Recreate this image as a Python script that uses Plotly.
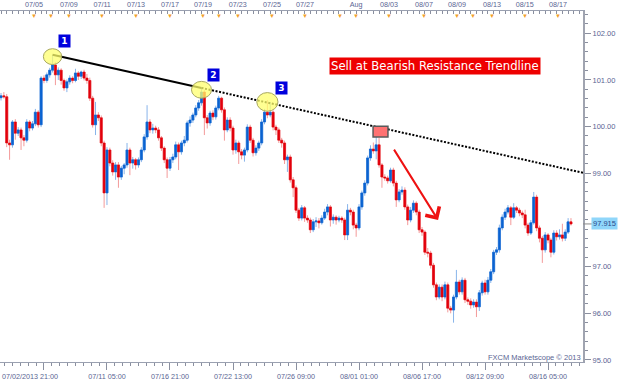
import plotly.graph_objects as go

# ---------------- data ----------------
first_open = 100.62
closes = [
    100.66, 100.64, 99.65, 99.61, 100.10, 99.86, 99.93, 99.76, 99.71, 100.10,
    99.97, 100.06, 100.31, 100.04, 101.04, 100.99, 101.11, 101.21, 101.32, 101.11,
    101.21, 100.99, 100.83, 100.96, 101.04, 100.99, 101.15, 101.08, 101.17, 101.04,
    100.99, 100.61, 100.04, 100.25, 100.19, 99.65, 98.58, 99.50, 99.22, 99.03,
    99.18, 98.92, 99.11, 99.18, 99.50, 99.22, 99.29, 99.18, 99.29, 99.50,
    99.78, 100.10, 99.93, 99.97, 99.93, 99.76, 99.54, 99.29, 99.11, 99.29,
    99.35, 99.61, 99.46, 99.65, 99.71, 100.08, 100.14, 100.25, 100.40, 100.51,
    100.74, 100.19, 100.08, 100.29, 100.21, 100.40, 100.61, 100.36, 99.93, 100.14,
    99.97, 99.50, 99.65, 99.46, 99.39, 99.50, 99.99, 99.71, 99.44, 99.54,
    99.65, 100.10, 100.31, 100.25, 100.31, 99.99, 99.93, 99.71, 99.65, 99.29,
    99.35, 98.86, 98.69, 98.21, 98.04, 98.26, 98.04, 98.00, 97.79, 97.96,
    97.98, 97.94, 98.04, 98.17, 98.28, 98.00, 98.06, 98.00, 98.04, 98.00,
    97.68, 98.21, 98.17, 97.89, 97.83, 98.28, 98.58, 98.79, 99.33, 99.52,
    99.48, 99.61, 99.18, 98.92, 98.90, 98.84, 99.07, 98.79, 98.43, 98.60,
    98.64, 98.28, 98.00, 98.21, 98.36, 98.17, 97.79, 97.74, 97.31, 97.29,
    97.03, 96.61, 96.35, 96.56, 96.35, 96.61, 96.11, 96.07, 96.35, 96.67,
    96.46, 96.71, 96.29, 96.26, 96.18, 96.24, 96.14, 96.44, 96.65, 96.46,
    96.71, 96.89, 97.31, 97.36, 97.83, 98.06, 98.17, 98.26, 98.06, 98.26,
    98.21, 98.15, 98.11, 97.89, 97.72, 97.94, 98.49, 97.83, 97.61, 97.36,
    97.68, 97.57, 97.31, 97.72, 97.64, 97.68, 97.61, 97.74, 97.96, 97.915,
]
highs = [
    100.72, 100.74, 100.70, 99.72, 100.14, 100.16, 99.99, 99.98, 99.82, 100.16,
    100.14, 100.12, 100.38, 100.35, 101.08, 101.10, 101.16, 101.26, 101.54, 101.38,
    101.27, 101.25, 101.03, 101.01, 101.10, 101.08, 101.24, 101.19, 101.20, 101.22,
    101.13, 101.05, 100.66, 100.53, 100.31, 100.24, 99.70, 99.56, 99.55, 99.28,
    99.24, 99.24, 99.16, 99.22, 99.65, 99.55, 99.35, 99.33, 99.34, 99.56,
    99.84, 100.46, 100.16, 100.06, 100.02, 99.99, 99.80, 99.58, 99.34, 99.35,
    99.42, 99.68, 99.66, 99.70, 99.80, 100.13, 100.22, 100.30, 100.46, 100.57,
    100.83, 100.78, 100.25, 100.34, 100.35, 100.45, 100.66, 100.64, 100.41, 100.20,
    100.20, 100.02, 99.72, 99.70, 99.52, 99.55, 100.05, 100.04, 99.76, 99.60,
    99.70, 100.16, 100.38, 100.57, 100.53, 100.35, 100.04, 99.98, 99.76, 99.70,
    99.40, 99.40, 98.92, 98.74, 98.26, 98.32, 98.30, 98.10, 98.05, 98.02,
    98.06, 98.04, 98.10, 98.24, 98.34, 98.32, 98.12, 98.10, 98.09, 98.08,
    98.05, 98.34, 98.26, 98.22, 97.94, 98.34, 98.63, 98.85, 99.38, 99.60,
    99.66, 99.88, 99.76, 99.22, 98.98, 98.95, 99.12, 99.12, 98.84, 98.66,
    98.72, 98.70, 98.33, 98.28, 98.42, 98.40, 98.22, 97.85, 97.78, 97.40,
    97.34, 97.08, 96.66, 96.62, 96.62, 96.68, 96.66, 96.16, 96.40, 96.93,
    96.72, 96.77, 96.76, 96.34, 96.32, 96.30, 96.30, 96.50, 96.70, 96.72,
    96.78, 96.95, 97.36, 97.42, 97.90, 98.12, 98.24, 98.32, 98.30, 98.36,
    98.30, 98.26, 98.20, 98.22, 97.94, 98.00, 98.60, 98.54, 97.88, 97.66,
    97.74, 97.72, 97.62, 97.78, 97.78, 97.80, 97.92, 97.80, 98.04, 98.04,
]
lows = [
    100.56, 100.60, 99.56, 99.29, 99.55, 99.72, 99.80, 99.50, 99.58, 99.66,
    99.90, 99.92, 100.01, 99.98, 99.99, 100.93, 100.94, 101.05, 101.16, 100.89,
    101.00, 100.90, 100.77, 100.74, 100.90, 100.93, 100.95, 101.00, 101.02, 100.99,
    100.92, 100.55, 99.98, 99.82, 100.12, 99.58, 98.26, 98.32, 99.15, 98.95,
    98.86, 98.69, 98.86, 98.98, 99.12, 98.96, 99.10, 99.08, 99.12, 99.24,
    99.45, 99.72, 99.86, 99.85, 99.86, 99.70, 99.48, 99.22, 98.90, 99.05,
    99.22, 99.30, 99.07, 99.40, 99.58, 99.66, 100.00, 100.08, 100.20, 100.34,
    100.45, 99.82, 99.96, 100.02, 100.14, 100.15, 100.35, 100.30, 99.70, 99.88,
    99.90, 99.40, 99.42, 99.20, 99.30, 99.25, 99.45, 99.65, 99.36, 99.38,
    99.48, 99.60, 100.05, 100.18, 100.20, 99.92, 99.82, 99.65, 99.55, 99.20,
    99.03, 98.80, 98.49, 98.15, 97.98, 97.99, 97.96, 97.94, 97.72, 97.74,
    97.85, 97.82, 97.90, 98.00, 98.10, 97.86, 97.92, 97.90, 97.95, 97.94,
    97.57, 97.57, 98.10, 97.80, 97.64, 97.78, 98.22, 98.52, 98.74, 99.27,
    99.42, 99.30, 99.12, 98.69, 98.84, 98.78, 98.80, 98.72, 98.28, 98.38,
    98.54, 98.22, 97.89, 97.95, 98.15, 98.10, 97.72, 97.66, 97.25, 97.20,
    96.96, 96.55, 96.28, 96.30, 96.26, 96.30, 96.02, 96.00, 95.80, 96.30,
    96.40, 96.40, 96.22, 96.18, 96.10, 96.12, 95.92, 96.05, 96.38, 96.40,
    96.40, 96.65, 96.84, 97.25, 97.30, 97.78, 98.00, 98.12, 97.89, 98.02,
    98.15, 98.08, 98.04, 97.82, 97.66, 97.68, 97.90, 97.76, 97.52, 97.08,
    97.30, 97.50, 97.20, 97.26, 97.56, 97.58, 97.54, 97.55, 97.70, 97.88,
]
opens = [first_open] + closes[:-1]
bar_index = list(range(len(closes)))

price_ticks = [95, 96, 97, 99, 100, 101, 102]   # 98.00 hidden behind the last-price tag
bottom_tick_idx = [15, 37, 59, 81, 103, 125, 147, 169, 191]
bottom_tick_text = ["", "07/11 05:00", "07/16 21:00", "07/22 13:00", "07/26 09:00",
                    "08/01 01:00", "08/06 17:00", "08/12 09:00", "08/16 05:00"]
first_time_label = "07/02/2013 21:00"
top_tick_idx = [11.5, 23.7, 35.3, 47.1, 59.0, 70.5, 82.7, 94.6, 106.1, 124.0,
                135.5, 147.7, 159.2, 171.4, 182.9, 194.5]
top_tick_text = ["07/05", "07/09", "07/11", "07/13", "07/17", "07/19", "07/23", "07/25",
                 "07/27", "Aug", "08/03", "08/07", "08/09", "08/13", "08/15", "08/17"]
top_marker_extra = [17.5, 76.1, 118.4, 164.8]
pivots = [18, 70, 93]          # touches 1, 2, 3 of the trendline
pivot_labels = ["1", "2", "3"]
title_text = "Sell at Bearish Resistance Trendline"
watermark = "FXCM Marketscope © 2013"

# ---------------- styling ----------------
X_RANGE = [-0.35, 203.2]
Y_RANGE = [94.957, 102.478]
BLUE = "#0b63d1"
RED = "#e2000c"
LBLUE = "#88b4ea"
LRED = "#f39a9a"
AXIS_TXT = "#5a6593"
FONT = "Liberation Sans"

fig = go.Figure()

# wicks (light)
fig.add_trace(go.Candlestick(
    x=bar_index, open=opens, high=highs, low=lows, close=closes,
    increasing=dict(line=dict(color=LBLUE, width=1), fillcolor=LBLUE),
    decreasing=dict(line=dict(color=LRED, width=1), fillcolor=LRED),
    whiskerwidth=0, hoverinfo="skip", showlegend=False))
# bodies (saturated)
body_hi = [max(o, c) for o, c in zip(opens, closes)]
body_lo = [min(o, c) for o, c in zip(opens, closes)]
fig.add_trace(go.Candlestick(
    x=bar_index, open=opens, high=body_hi, low=body_lo, close=closes,
    increasing=dict(line=dict(color=BLUE, width=0.5), fillcolor=BLUE),
    decreasing=dict(line=dict(color=RED, width=0.5), fillcolor=RED),
    whiskerwidth=0, hoverinfo="skip", showlegend=False))

# trendline through touch 1 and touch 2, extended as dotted line
p1, p2 = pivots[0], pivots[1]
slope = (highs[p2] - highs[p1]) / (p2 - p1)
x_end = X_RANGE[1]
fig.add_trace(go.Scatter(x=[p1, p2], y=[highs[p1], highs[p2]], mode="lines",
                         line=dict(color="black", width=2), hoverinfo="skip", showlegend=False))
fig.add_trace(go.Scatter(x=[p2, x_end], y=[highs[p2], highs[p2] + slope * (x_end - p2)],
                         mode="lines", line=dict(color="black", width=2, dash="2px,1.6px"),
                         hoverinfo="skip", showlegend=False))
# dummy trace for the top axis
fig.add_trace(go.Scatter(x=[bar_index[0]], y=[closes[0]], xaxis="x2", mode="markers",
                         marker=dict(opacity=0), hoverinfo="skip", showlegend=False))

shapes = []
# yellow circles at the three touches
circle_r = [(3.2, 0.17), (3.5, 0.18), (3.7, 0.20)]
for p, (rx, ry) in zip(pivots, circle_r):
    cy = highs[p] - 0.04
    shapes.append(dict(type="circle", xref="x", yref="y", x0=p - rx, x1=p + rx,
                       y0=cy - ry, y1=cy + ry, fillcolor="rgba(255,255,110,0.75)",
                       line=dict(color="#a8a860", width=1)))
# red rectangle where price retests the line
shapes.append(dict(type="rect", xref="x", yref="y", x0=129.9, x1=135.1, y0=99.78, y1=100.01,
                   fillcolor="#ff7272", line=dict(color="#5a5a5a", width=1.5)))
# short tick for last price
shapes.append(dict(type="line", xref="paper", yref="y", x0=1.0, x1=1.016,
                   y0=closes[-1], y1=closes[-1], line=dict(color="#8a8a8a", width=1)))

annotations = []
label_shifts = [(12, 14), (12, 13), (14, 12)]
for p, lab, (dx, dy) in zip(pivots, pivot_labels, label_shifts):
    annotations.append(dict(x=p, y=highs[p], xref="x", yref="y", text="<b>%s</b>" % lab,
                            showarrow=False, xshift=dx, yshift=dy, bgcolor="#0000dd",
                            font=dict(family="DejaVu Sans", size=9, color="white"),
                            width=9, height=10, borderpad=1))
annotations.append(dict(x=151.5, y=101.30, xref="x", yref="y", text=title_text,
                        showarrow=False, bgcolor="#ee0000",
                        font=dict(family="DejaVu Sans", size=11.7, color="white"),
                        borderpad=1))
annotations.append(dict(x=152.6, y=98.00, xref="x", yref="y", ax=136.9, ay=99.54,
                        axref="x", ayref="y", text="", showarrow=True, arrowhead=4,
                        arrowsize=1.6, arrowwidth=2, arrowcolor="#ee1111"))
for t in top_tick_idx + top_marker_extra:
    annotations.append(dict(x=t, y=1, xref="x", yref="paper", yanchor="top", text="▼",
                            showarrow=False, font=dict(size=6, color="#f2a02a"),
                            yshift=1))
annotations.append(dict(x=0, y=0, xref="paper", yref="paper", xanchor="left", yanchor="top",
                        text=first_time_label, showarrow=False, yshift=-8,
                        font=dict(family=FONT, size=7.2, color=AXIS_TXT)))
annotations.append(dict(x=1, y=0, xref="paper", yref="paper", xanchor="right", yanchor="bottom",
                        text=watermark, showarrow=False, yshift=-2,
                        font=dict(family=FONT, size=7.5, color=AXIS_TXT)))
annotations.append(dict(x=1, y=closes[-1], xref="paper", yref="y", xanchor="left",
                        text="%.3f" % closes[-1], showarrow=False, xshift=8,
                        bgcolor="#8fd6fa", borderpad=1,
                        font=dict(family=FONT, size=7.5, color="#2b4a8a")))

fig.update_layout(
    width=623, height=383,
    margin=dict(l=0, r=40, t=11, b=21, autoexpand=False),
    paper_bgcolor="white", plot_bgcolor="white",
    showlegend=False,
    boxgap=0.15, boxgroupgap=0.15,
    shapes=shapes, annotations=annotations,
    xaxis=dict(range=X_RANGE, rangeslider=dict(visible=False), showgrid=False, zeroline=False,
               automargin=False,
               showline=True, linecolor="#9aa0b0", linewidth=1, mirror=False,
               tickmode="array", tickvals=bottom_tick_idx, ticktext=bottom_tick_text,
               ticks="outside", ticklen=7, tickcolor="#8a8f9f",
               minor=dict(ticks="outside", ticklen=3, dtick=2.75, tick0=15, tickcolor="#8a8f9f"),
               tickfont=dict(family=FONT, size=7.2, color=AXIS_TXT)),
    xaxis2=dict(overlaying="x", matches="x", side="top", anchor="y", showgrid=False,
                zeroline=False, showline=True, linecolor="#9aa0b0", linewidth=1,
                automargin=False,
                tickmode="array", tickvals=top_tick_idx, ticktext=top_tick_text,
                ticks="", ticklen=0,
                minor=dict(ticks="inside", ticklen=3, dtick=2, tick0=0, tickcolor="#8a8f9f"),
                tickfont=dict(family=FONT, size=7.2, color=AXIS_TXT)),
    yaxis=dict(range=Y_RANGE, side="right", showgrid=False, zeroline=False,
               automargin=False,
               showline=True, linecolor="#a0a4b0", linewidth=2,
               tickmode="array", tickvals=price_ticks, tickformat=".2f",
               ticks="outside", ticklen=6, tickcolor="#8a8f9f",
               minor=dict(ticks="outside", ticklen=3, dtick=0.2, tick0=95, tickcolor="#8a8f9f"),
               tickfont=dict(family=FONT, size=7.5, color=AXIS_TXT)),
)

fig.write_html("out.html", config={"displayModeBar": False},
               post_script="document.body.style.margin='0';")
